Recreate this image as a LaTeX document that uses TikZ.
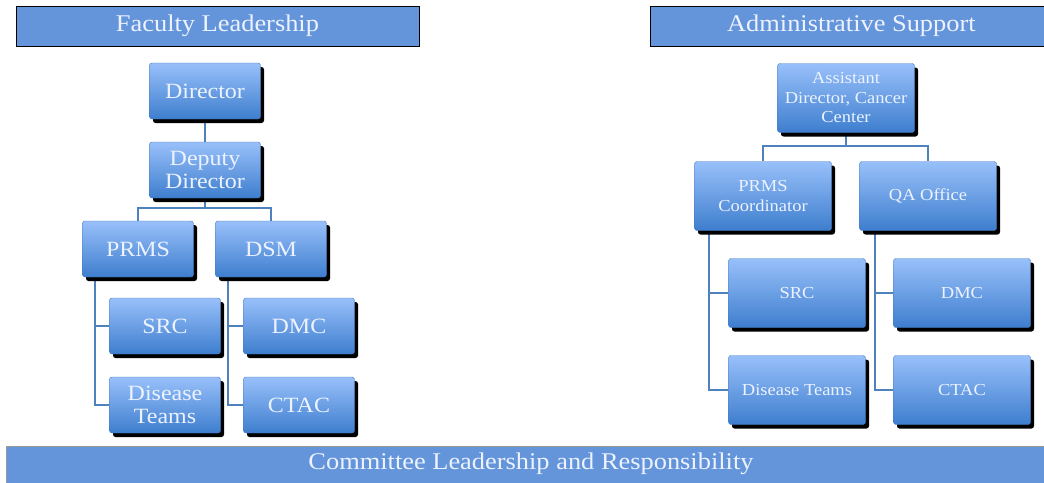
\documentclass[tikz,border=0pt]{standalone}
\usepackage{fontspec}
\setmainfont[FakeStretch=1.1]{Liberation Serif}
\usetikzlibrary{shadows}
\pgfdeclarelayer{background}
\pgfsetlayers{background,main}
\definecolor{hdr}{RGB}{100,148,218}
\definecolor{boxtop}{RGB}{152,192,250}
\definecolor{boxbot}{RGB}{62,126,206}
\definecolor{boxline}{RGB}{70,120,190}
\definecolor{lnk}{RGB}{79,129,189}
\definecolor{txt}{RGB}{236,242,255}
\begin{document}
\begin{tikzpicture}[x=1pt,y=-1pt,
  orgbox/.style={rectangle, rounded corners=2.5pt, top color=boxtop, bottom color=boxbot,
    draw=boxline, line width=0.4pt, text=txt, align=center, inner sep=2pt,
    drop shadow={shadow xshift=3.5pt, shadow yshift=-4pt, fill=black, opacity=1}},
  bigbox/.style={orgbox, minimum width=111pt, minimum height=56pt,
    font=\fontsize{21.8}{22.5}\selectfont},
  smallbox/.style={orgbox, minimum width=137pt, minimum height=69pt,
    font=\fontsize{16.8}{19.5}\selectfont},
  header/.style={rectangle, fill=hdr, draw=black, line width=0.8pt, text=txt,
    font=\fontsize{24}{26}\selectfont},
  link/.style={draw=lnk, line width=1.4pt}]
\useasboundingbox (0,0) rectangle (1044,482);

% headers
\node[header, minimum width=403pt, minimum height=40pt] (fl) at (217.5,26) {Faculty Leadership};
\node[header, minimum width=402pt, minimum height=40pt, anchor=west] (as) at (650,26) {Administrative Support};
\node[header, draw=gray!80, line width=0.6pt, minimum width=1040pt, minimum height=37pt, anchor=north west] (cl) at (6,446) {};
\node[text=txt, font=\fontsize{24}{26}\selectfont] (clt) at (531,464) {Committee Leadership and Responsibility};

% left tree
\node[bigbox] (dir) at (205,91) {Director};
\node[bigbox] (dep) at (205,170) {Deputy\\Director};
\node[bigbox] (prms) at (138,249) {PRMS};
\node[bigbox] (dsm) at (271,249) {DSM};
\node[bigbox] (src) at (165,326) {SRC};
\node[bigbox] (dmc) at (299,326) {DMC};
\node[bigbox] (dt) at (165,405) {Disease\\Teams};
\node[bigbox] (ctac) at (299,405) {CTAC};

% right tree
\node[smallbox] (ad) at (846,98) {Assistant\\Director, Cancer\\Center};
\node[smallbox] (pc) at (763,196) {PRMS\\Coordinator};
\node[smallbox] (qa) at (928,196) {QA Office};
\node[smallbox] (rsrc) at (797,293) {SRC};
\node[smallbox] (rdmc) at (962,293) {DMC};
\node[smallbox] (rdt) at (797,390) {Disease Teams};
\node[smallbox] (rctac) at (962,390) {CTAC};

\coordinate (busL) at (205,208);
\coordinate (spA) at (95,0);
\coordinate (spB) at (228,0);
\coordinate (busR) at (846,146);
\coordinate (spC) at (709,0);
\coordinate (spD) at (875,0);

\begin{pgfonlayer}{background}
\draw[link] (dir.south) -- (dep.north);
\draw[link] (dep.south) -- (busL);
\draw[link] (prms.north) |- (busL) -| (dsm.north);
\draw[link] (prms.south -| spA) |- (dt.west);
\draw[link] (spA |- src.west) -- (src.west);
\draw[link] (dsm.south -| spB) |- (ctac.west);
\draw[link] (spB |- dmc.west) -- (dmc.west);
\draw[link] (ad.south) -- (busR);
\draw[link] (pc.north) |- (busR) -| (qa.north);
\draw[link] (pc.south -| spC) |- (rdt.west);
\draw[link] (spC |- rsrc.west) -- (rsrc.west);
\draw[link] (qa.south -| spD) |- (rctac.west);
\draw[link] (spD |- rdmc.west) -- (rdmc.west);
\end{pgfonlayer}
\end{tikzpicture}
\end{document}
